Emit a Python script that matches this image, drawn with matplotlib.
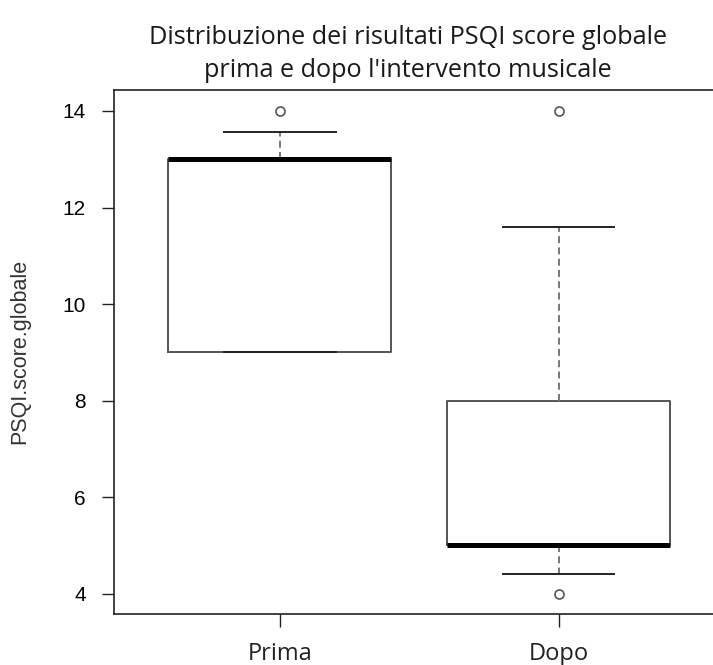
import matplotlib
matplotlib.use('Agg')
import matplotlib.pyplot as plt

# Box statistics (R-style boxplot)
groups = ['Prima', 'Dopo']
whis_lo = [9.0, 4.4]
q1 = [9.0, 5.0]
medians = [13.0, 5.0]
q3 = [13.0, 8.0]
whis_hi = [13.56, 11.59]
outliers = [[14.0], [4.0, 14.0]]
yticks = [4, 6, 8, 10, 12, 14]

stats = []
for i, g in enumerate(groups):
    stats.append({'label': g, 'whislo': whis_lo[i], 'q1': q1[i], 'med': medians[i],
                  'q3': q3[i], 'whishi': whis_hi[i], 'fliers': outliers[i]})

fig = plt.figure(figsize=(7.13, 6.65), dpi=100)
ax = fig.add_axes([114/713, 1 - 614/665, 605/713, 524/665])

ax.bxp(stats, positions=[1, 2], widths=0.8, showfliers=True,
       boxprops=dict(color='#555555', linewidth=1.4),
       medianprops=dict(color='black', linewidth=3.6, solid_capstyle='butt'),
       whiskerprops=dict(color='#777777', linewidth=1.4, linestyle=(0, (3.6, 2.2))),
       capprops=dict(color='#222222', linewidth=1.4),
       flierprops=dict(marker='o', markerfacecolor='none', markeredgecolor='#555555',
                       markersize=6.5, markeredgewidth=1.2))

ax.set_xlim(0.405, 2.575)
ax.set_ylim(3.58, 14.435)

ax.set_yticks(yticks)
ax.set_yticklabels([str(t) for t in yticks], family='Liberation Sans', fontsize=15)
ax.tick_params(axis='y', length=8.3, width=1.0, pad=12, color='#222222')
ax.set_xticks([1, 2])
ax.set_xticklabels(groups, family='Open Sans', fontsize=17, color='#222222')
ax.tick_params(axis='x', length=9.4, width=1.0, pad=11, color='#222222')

for s in ax.spines.values():
    s.set_linewidth(1.2)
    s.set_color('#222222')

ax.set_ylabel('PSQI.score.globale', family='Liberation Sans', fontsize=15.5, color='#333333')
ax.yaxis.set_label_coords(-0.139, 0.502)

fig.text(408/713, 1 - 54/665,
         "Distribuzione dei risultati PSQI score globale\nprima e dopo l'intervento musicale",
         ha='center', va='center', family='Open Sans', fontsize=18.2, color='#1a1a1a',
         linespacing=1.4)

fig.savefig('out.png', dpi=100)
